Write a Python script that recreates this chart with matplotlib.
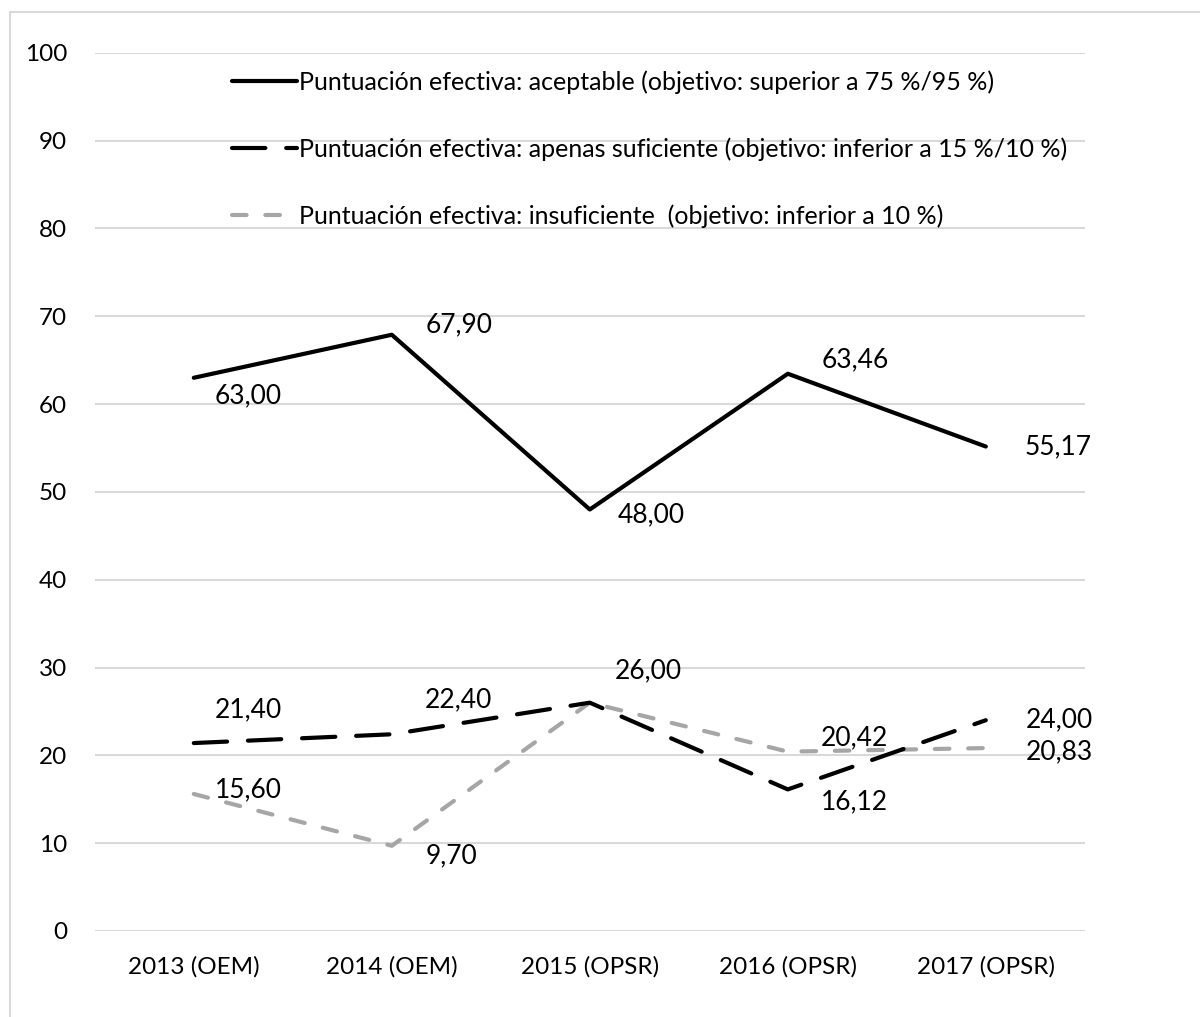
import matplotlib.pyplot as plt
from matplotlib.patches import Rectangle

plt.rcParams['font.family'] = ['Lato', 'DejaVu Sans']

categories = ['2013 (OEM)', '2014 (OEM)', '2015 (OPSR)', '2016 (OPSR)', '2017 (OPSR)']
aceptable = [63.00, 67.90, 48.00, 63.46, 55.17]
apenas = [21.40, 22.40, 26.00, 16.12, 24.00]
insuficiente = [15.60, 9.70, 26.00, 20.42, 20.83]

names = ['Puntuación efectiva: aceptable (objetivo: superior a 75 %/95 %)',
         'Puntuación efectiva: apenas suficiente (objetivo: inferior a 15 %/10 %)',
         'Puntuación efectiva: insuficiente  (objetivo: inferior a 10 %)']

# label offsets in points (dx, dy) for each series
off_acept = [(15, -13), (24, 7), (20, -4), (24, 10), (28, 0)]
off_apenas = [(15, 24), (24, 25), (18, 23), (24, -9), (29, 0)]
off_insuf = [(15, 3), (24, -7), (0, 0), (24, 10), (29, -3)]

fig = plt.figure(figsize=(12, 10.17), dpi=100)
ax = fig.add_axes([0.079, 0.0846, 0.825, 0.8634])

x = list(range(len(categories)))
ax.plot(x, aceptable, color='black', lw=3, solid_capstyle='round', label=names[0], zorder=3)
ax.plot(x, apenas, color='black', lw=3, dashes=(8, 5), dash_capstyle='round', label=names[1], zorder=3)
ax.plot(x, insuficiente, color='#a6a6a6', lw=3, dashes=(3.5, 4.5), dash_capstyle='round', label=names[2], zorder=2)

for vals, offs in [(aceptable, off_acept), (apenas, off_apenas), (insuficiente, off_insuf)]:
    for xi, v, (dx, dy) in zip(x, vals, offs):
        if (dx, dy) == (0, 0):
            continue
        ax.annotate(f'{v:.2f}'.replace('.', ','), (xi, v), xytext=(dx, dy),
                    textcoords='offset points', fontsize=19, va='center', ha='left',
                    zorder=4)

ax.set_xlim(-0.5, 4.5)
ax.set_ylim(0, 100)
ax.set_yticks(range(0, 101, 10))
ax.set_xticks(x)
ax.set_xticklabels(categories)
ax.tick_params(axis='x', length=0, labelsize=17.5, pad=18)
ax.tick_params(axis='y', length=0, labelsize=17.5, pad=20)
ax.grid(axis='y', color='#d9d9d9', lw=1.5)
ax.set_axisbelow(True)
for s in ax.spines.values():
    s.set_visible(False)

leg = ax.legend(loc='upper left', bbox_to_anchor=(0.128, 0.992), frameon=False,
                fontsize=18, handlelength=2.6, handletextpad=0.1, labelspacing=1.75,
                borderaxespad=0)

fig.patches.append(Rectangle((10 / 1200, -0.1), 1.2, 1 - 12 / 1017 + 0.1,
                             transform=fig.transFigure, fill=False,
                             edgecolor='#d9d9d9', lw=1.5))

fig.savefig('out.png', dpi=100)
